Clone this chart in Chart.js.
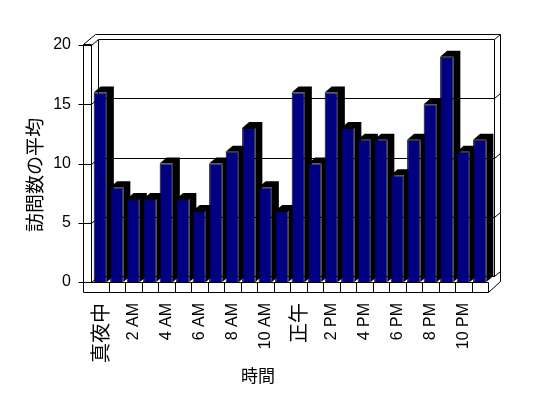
<!DOCTYPE html>
<html>
<head>
<meta charset="utf-8">
<script src="https://cdn.jsdelivr.net/npm/chart.js@4.4.0/dist/chart.umd.min.js"></script>
<style>
body{margin:0;background:#fff;}
#wrap{width:548px;height:398px;}
</style>
</head>
<body>
<div id="wrap"><canvas id="mainCanvas" width="548" height="398"></canvas></div>
<script>
var hours = ['真夜中','1 AM','2 AM','3 AM','4 AM','5 AM','6 AM','7 AM','8 AM','9 AM','10 AM','11 AM',
             '正午','1 PM','2 PM','3 PM','4 PM','5 PM','6 PM','7 PM','8 PM','9 PM','10 PM','11 PM'];
var visits = [16,8,7,7,10,7,6,10,11,13,8,6,16,10,16,13,12,12,9,12,15,19,11,12];
var yTicks = [0,5,10,15,20];
var xTitle = '時間';
var yTitle = '訪問数の平均';

var latin = '"Liberation Sans", Arial, sans-serif';
var cjk = '"Noto Sans CJK JP", sans-serif';

// depth of the fake 3d box
var DX = 7, DY = 6, DX2 = 12, DY2 = 11, FLOOR = 10;

function ln(ctx, x1, y1, x2, y2){
    ctx.beginPath();
    ctx.moveTo(Math.round(x1) + 0.5, Math.round(y1) + 0.5);
    ctx.lineTo(Math.round(x2) + 0.5, Math.round(y2) + 0.5);
    ctx.stroke();
}

var box3d = {
    id: 'box3d',
    beforeDatasetsDraw: function(chart){
        var ctx = chart.ctx, a = chart.chartArea;
        var xs = chart.scales.x, ys = chart.scales.y;
        var L = a.left, R = a.right, T = a.top, B = a.bottom;
        var wl = L - 9;
        ctx.save();
        ctx.strokeStyle = '#000';
        ctx.lineWidth = 1;
        // left wall
        ln(ctx, wl, T - 1, wl, B + FLOOR);
        ln(ctx, L - 1, T - 1, L - 1, B);
        ln(ctx, wl, T - 1, L - 1, T - 1);
        ln(ctx, wl, T - 1, wl + DX2, T - DY2);
        // back wall
        ln(ctx, wl + DX2, T - DY2, R + DX2, T - DY2);
        ln(ctx, R + DX2, T - DY2, R + DX2, B - 1);
        ln(ctx, L - 1 + DX, T - DY, L - 1 + DX, B - DY);
        ln(ctx, R + DX - 1, T - DY, R + DX - 1, B - DY);
        // grid on walls
        yTicks.forEach(function(v){
            var py = ys.getPixelForValue(v);
            ln(ctx, wl - 5, py, L - 1, py);
            ln(ctx, L - 1, py, L - 1 + DX, py - DY);
            ln(ctx, L - 1 + DX, py - DY, R + DX - 1, py - DY);
            ln(ctx, R + DX - 1, py - DY, R + DX2, py - DY2);
        });
        // floor
        ln(ctx, wl, B, R, B);
        ln(ctx, wl, B + FLOOR, R, B + FLOOR);
        ln(ctx, R, B, R, B + FLOOR);
        ln(ctx, R, B + FLOOR, R + DX2, B - 1);
        for (var i = 0; i < hours.length - 1; i++) {
            var bx = (xs.getPixelForTick(i) + xs.getPixelForTick(i + 1)) / 2;
            ln(ctx, bx, B, bx, B + FLOOR);
        }
        // bar tops and sides
        var meta = chart.getDatasetMeta(0);
        ctx.fillStyle = '#000';
        meta.data.forEach(function(bar){
            var p = bar.getProps(['x', 'y', 'width', 'base'], true);
            var l = p.x - p.width / 2, r = p.x + p.width / 2;
            ctx.beginPath();
            ctx.moveTo(l, p.y);
            ctx.lineTo(l + DX, p.y - DY);
            ctx.lineTo(r + DX, p.y - DY);
            ctx.lineTo(r + DX, p.base - DY);
            ctx.lineTo(r, p.base);
            ctx.lineTo(r, p.y);
            ctx.closePath();
            ctx.fill();
        });
        ctx.restore();
    },
    afterDraw: function(chart){
        var ctx = chart.ctx;
        ctx.save();
        ctx.fillStyle = '#000';
        ctx.textAlign = 'center';
        ctx.textBaseline = 'middle';
        ctx.font = '17px ' + cjk;
        ctx.fillText(xTitle, 258, 376);
        ctx.translate(35, 175);
        ctx.rotate(-Math.PI / 2);
        ctx.font = '19px ' + cjk;
        ctx.fillText(yTitle, 0, 0);
        ctx.restore();
    }
};

var ctx = document.getElementById('mainCanvas').getContext('2d');
var chart = new Chart(ctx, {
    type: 'bar',
    data: {
        labels: hours,
        datasets: [{
            data: visits,
            backgroundColor: '#000080',
            borderColor: '#000',
            borderWidth: 1,
            barPercentage: 0.8,
            categoryPercentage: 1
        }]
    },
    options: {
        responsive: false,
        animation: false,
        layout: { padding: { top: 45, right: 60, left: 0, bottom: 0 } },
        plugins: { legend: { display: false }, tooltip: { enabled: false } },
        scales: {
            x: {
                grid: { display: false, drawTicks: false },
                border: { display: false },
                afterFit: function(s){ s.height = 116; },
                ticks: {
                    autoSkip: false,
                    minRotation: 90,
                    maxRotation: 90,
                    padding: 21,
                    color: '#000',
                    callback: function(v, i){ return i % 2 ? '' : hours[i]; },
                    font: function(c){
                        var t = hours[c.index] || '';
                        return /[^\x00-\x7f]/.test(t) ? { family: cjk, size: 20 } : { family: latin, size: 16 };
                    }
                }
            },
            y: {
                min: 0,
                max: 20,
                grid: { display: false, drawTicks: false },
                border: { display: false },
                afterFit: function(s){ s.width = 92; },
                ticks: {
                    stepSize: 5,
                    padding: 21,
                    color: '#000',
                    font: { family: latin, size: 16 }
                }
            }
        }
    },
    plugins: [box3d]
});
</script>
</body>
</html>
